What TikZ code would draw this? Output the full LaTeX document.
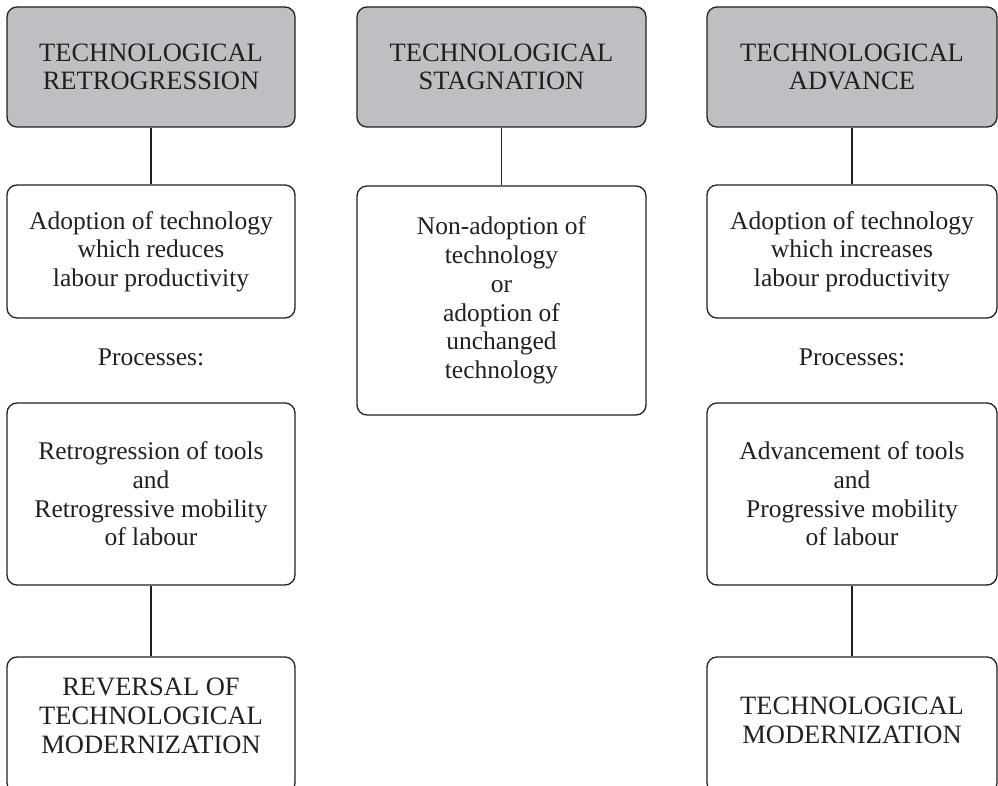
\documentclass[tikz,border=0pt]{standalone}
\usepackage{fontspec}
\setmainfont{Liberation Serif}
\definecolor{ink}{HTML}{231F20}
\definecolor{headfill}{HTML}{BEBFC2}
\tikzset{
  box/.style={draw=ink, line width=1.3pt, rounded corners=10pt, align=center,
    text=ink, inner sep=0pt, font=\fontsize{25.5}{28.7}\selectfont},
  headbox/.style={box, fill=headfill, font=\fontsize{26.5}{28.5}\selectfont},
  txt/.style={text=ink, align=center, inner sep=0pt, font=\fontsize{25.5}{28.7}\selectfont},
  captxt/.style={txt, font=\fontsize{26.5}{29}\selectfont},
  link/.style={draw=ink, line width=1.3pt}
}
\begin{document}
\begin{tikzpicture}[x=1pt,y=-1pt]
\useasboundingbox (0,0) rectangle (998,786);
% left column
\node[headbox, minimum width=288pt, minimum height=120pt] (h1) at (151,67) {TECHNOLOGICAL\\RETROGRESSION};
\node[box, minimum width=288pt, minimum height=133pt] (a1) at (151,251.5) {Adoption of technology\\which reduces\\labour productivity};
\node[txt] (p1) at (151,357) {Processes:};
\node[box, minimum width=288pt, minimum height=182pt] (r1) at (151,494) {Retrogression of tools\\and\\Retrogressive mobility\\of labour};
\node[box, minimum width=288pt, minimum height=136pt] (b1) at (151,725) {};
\node[captxt] (b1t) at (151,716) {REVERSAL OF\\TECHNOLOGICAL\\MODERNIZATION};
% middle column
\node[headbox, minimum width=289pt, minimum height=120pt] (h2) at (501.5,67) {TECHNOLOGICAL\\STAGNATION};
\node[box, minimum width=289pt, minimum height=229pt] (a2) at (501.5,300.5) {Non-adoption of\\technology\\or\\adoption of\\unchanged\\technology};
% right column
\node[headbox, minimum width=290pt, minimum height=120pt] (h3) at (852,67) {TECHNOLOGICAL\\ADVANCE};
\node[box, minimum width=290pt, minimum height=133pt] (a3) at (852,251.5) {Adoption of technology\\which increases\\labour productivity};
\node[txt] (p3) at (852,357) {Processes:};
\node[box, minimum width=290pt, minimum height=182pt] (r3) at (852,494) {Advancement of tools\\and\\Progressive mobility\\of labour};
\node[box, minimum width=290pt, minimum height=136pt] (b3) at (852,725) {};
\node[captxt] (b3t) at (852,720) {TECHNOLOGICAL\\MODERNIZATION};
% connectors
\draw[link] (h1) -- (a1);
\draw[link] (r1) -- (b1);
\draw[link] (h2) -- (a2);
\draw[link] (h3) -- (a3);
\draw[link] (r3) -- (b3);
\end{tikzpicture}
\end{document}
